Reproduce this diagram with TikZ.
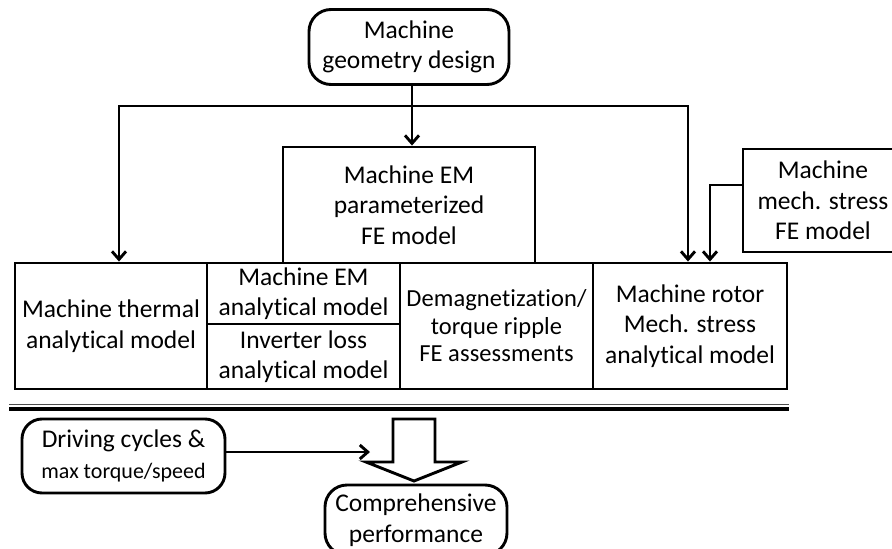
\documentclass[tikz,border=0pt]{standalone}
\usepackage{fontspec}
\setmainfont{Carlito}[Ligatures={NoCommon}]
\newfontfamily\demfont{Carlito}[Ligatures={NoCommon}, LetterSpace=0.4]
\usetikzlibrary{arrows.meta}

\tikzset{
  >={Straight Barb[length=8pt,width=14pt]},
  box/.style={draw, fill=white, align=center, inner sep=0pt, font=\fontsize{25.5}{30.5}\selectfont},
  pill/.style={box, rounded corners=22pt},
}

\begin{document}
\begin{tikzpicture}[x=1pt,y=-1pt,line width=2.9pt]
  \useasboundingbox (0,0) rectangle (892,549);
  % inputs
  \node[pill, minimum width=200pt, minimum height=75pt] (geo) at (409,47) {Machine\\geometry design};
  \node[box, minimum width=252pt, minimum height=116pt] (emfe) at (409,205) {Machine EM\\parameterized\\FE model};
  \node[box, minimum width=160pt, minimum height=103pt] (mech) at (823,200.5) {Machine\\mech. stress\\FE model};
  % analytical models
  \node[box, minimum width=192pt, minimum height=126pt] (th) at (111,326) {Machine thermal\\analytical model};
  \node[box, minimum width=193pt, minimum height=61pt] (ema) at (303.5,293.5) {Machine EM\\analytical model};
  \node[box, minimum width=193pt, minimum height=65pt] (inv) at (303.5,356.5) {Inverter loss\\analytical model};
  \node[box, minimum width=193pt, minimum height=126pt, font=\demfont\fontsize{24.5}{27.5}\selectfont] (dem) at (496.5,326) {Demagnetization/\\torque ripple\\FE assessments};
  \node[box, minimum width=194pt, minimum height=126pt] (rot) at (690,326) {Machine rotor\\Mech. stress\\analytical model};
  % performance
  \node[pill, minimum width=203pt, minimum height=74pt, rounded corners=20pt] (drive) at (123.5,456) {Driving cycles \&\\{\fontsize{22}{26}\selectfont max torque/speed}};
  \node[pill, minimum width=182pt, minimum height=70pt] (comp) at (416,520) {Comprehensive\\performance};

  \coordinate (bus) at (412,106);
  \coordinate (sumin) at (370,452);

  \draw[->] (geo.south -| bus) -- (emfe.north -| bus);
  \draw[->] (bus) -| ([xshift=8pt]th.north);
  \draw[->] (bus) -| ([xshift=-2pt]rot.north);
  \draw[->] ([yshift=15.5pt]mech.west) -| ([xshift=20pt]rot.north);

  \draw[line width=1.5pt, black!70] (9,404.5) -- (789,404.5);
  \draw[line width=4pt] (9,409) -- (789,409);

  \draw (393,419) -- (435,419) -- (435,462) -- (462,462) -- (414,481) -- (366,462) -- (393,462) -- cycle;
  \draw[->] (drive.east |- sumin) -- (sumin);
\end{tikzpicture}
\end{document}
